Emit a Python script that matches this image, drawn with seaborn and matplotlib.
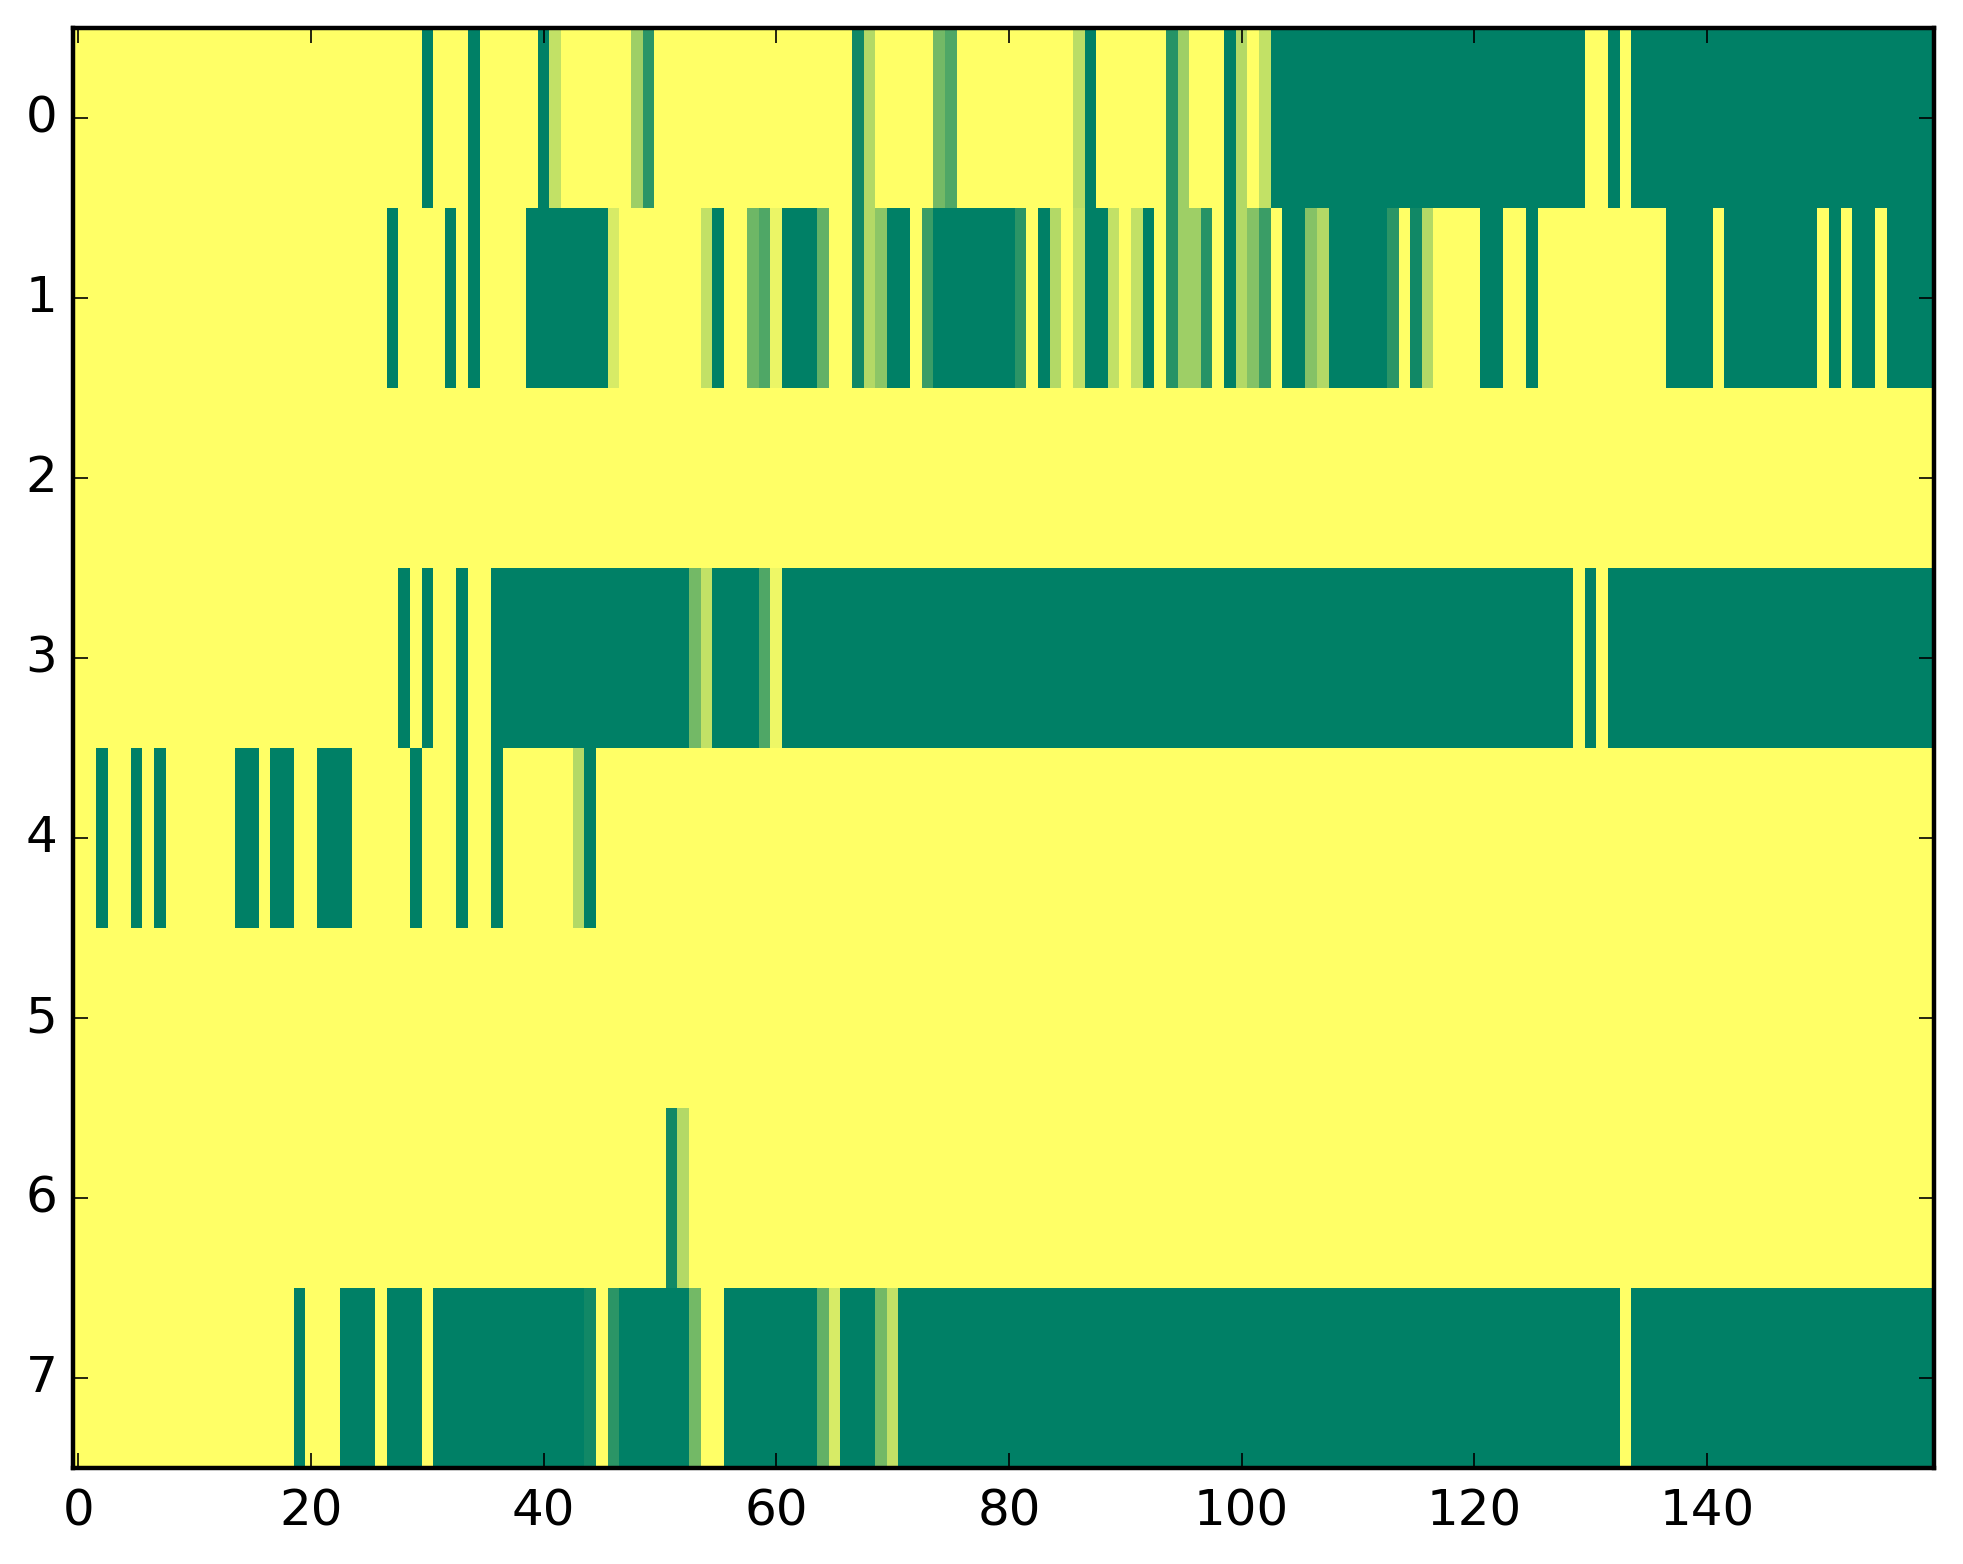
import numpy as np
import seaborn as sns
import matplotlib
matplotlib.use("Agg")
import matplotlib.pyplot as plt

N_COLS = 160
rows = [0, 1, 2, 3, 4, 5, 6, 7]
x_tick_values = [0, 20, 40, 60, 80, 100, 120, 140]

# non-yellow spans per row: (first column, last column, value)
row0 = [(30, 30, 1.0), (34, 34, 1.0), (40, 40, 1.0), (41, 41, 0.24), (48, 48, 0.38),
        (49, 49, 0.83), (67, 67, 0.93), (68, 68, 0.30), (74, 74, 0.55), (75, 75, 0.69),
        (86, 86, 0.27), (87, 87, 1.0), (94, 94, 0.85), (95, 95, 0.38), (99, 99, 1.0),
        (100, 100, 0.30), (102, 102, 0.24), (103, 129, 1.0), (132, 132, 1.0),
        (134, 159, 1.0)]
row1 = [(27, 27, 1.0), (32, 32, 1.0), (34, 34, 1.0), (39, 45, 1.0), (46, 46, 0.16),
        (54, 54, 0.24), (55, 55, 1.0), (58, 58, 0.57), (59, 59, 0.69), (60, 60, 0.08),
        (61, 63, 1.0), (64, 64, 0.61), (67, 67, 0.93), (68, 68, 0.30), (69, 69, 0.45),
        (70, 71, 1.0), (73, 73, 0.77), (74, 80, 1.0), (81, 81, 0.83), (83, 83, 1.0),
        (84, 84, 0.30), (86, 86, 0.24), (87, 88, 1.0), (89, 89, 0.24), (91, 91, 0.24),
        (92, 92, 1.0), (94, 94, 0.85), (95, 96, 0.38), (97, 97, 0.85), (99, 99, 1.0),
        (100, 100, 0.30), (101, 101, 0.48), (102, 102, 0.77), (104, 105, 1.0),
        (106, 106, 0.48), (107, 107, 0.30), (108, 112, 1.0), (113, 113, 0.83),
        (115, 115, 0.93), (116, 116, 0.30), (121, 122, 1.0), (125, 125, 1.0),
        (137, 140, 1.0), (142, 149, 1.0), (151, 151, 1.0), (153, 154, 1.0),
        (156, 159, 1.0)]
row2 = []
row3 = [(28, 28, 1.0), (30, 30, 1.0), (33, 33, 1.0), (36, 52, 1.0), (53, 53, 0.55),
        (54, 54, 0.24), (55, 58, 1.0), (59, 59, 0.69), (60, 60, 0.07), (61, 128, 1.0),
        (130, 130, 1.0), (132, 159, 1.0)]
row4 = [(2, 2, 1.0), (5, 5, 1.0), (7, 7, 1.0), (14, 15, 1.0), (17, 18, 1.0),
        (21, 23, 1.0), (29, 29, 1.0), (33, 33, 1.0), (36, 36, 1.0), (43, 43, 0.30),
        (44, 44, 1.0)]
row5 = []
row6 = [(51, 51, 0.93), (52, 52, 0.30)]
row7 = [(19, 19, 1.0), (23, 25, 1.0), (27, 29, 1.0), (31, 43, 1.0), (44, 44, 0.93),
        (46, 46, 0.83), (47, 52, 1.0), (53, 53, 0.55), (56, 63, 1.0), (64, 64, 0.61),
        (65, 65, 0.16), (66, 68, 1.0), (69, 69, 0.55), (70, 70, 0.24), (71, 132, 1.0),
        (134, 159, 1.0)]

spans = [row0, row1, row2, row3, row4, row5, row6, row7]
matrix = np.zeros((len(rows), N_COLS))
for r, row in enumerate(spans):
    for start, end, val in row:
        matrix[r, start:end + 1] = val

fig = plt.figure(figsize=(9.815, 7.82), dpi=200)
ax = fig.add_axes([0.037, 0.0614, 0.948, 0.9205])
sns.heatmap(matrix, cmap="summer_r", vmin=0, vmax=1, cbar=False, ax=ax)

ax.set_xticks([v + 0.5 for v in x_tick_values])
ax.set_xticklabels([str(v) for v in x_tick_values], rotation=0)
ax.set_yticks([r + 0.5 for r in rows])
ax.set_yticklabels([str(r) for r in rows], rotation=0)
ax.tick_params(direction="in", top=True, right=True, length=5.5, width=0.6,
               labelsize=18, colors="black")
ax.tick_params(axis="x", pad=7)
ax.tick_params(axis="y", pad=5.5)
for s in ax.spines.values():
    s.set_visible(True)
    s.set_color("black")
    s.set_linewidth(1.6)

fig.savefig("out.png", dpi=200)
